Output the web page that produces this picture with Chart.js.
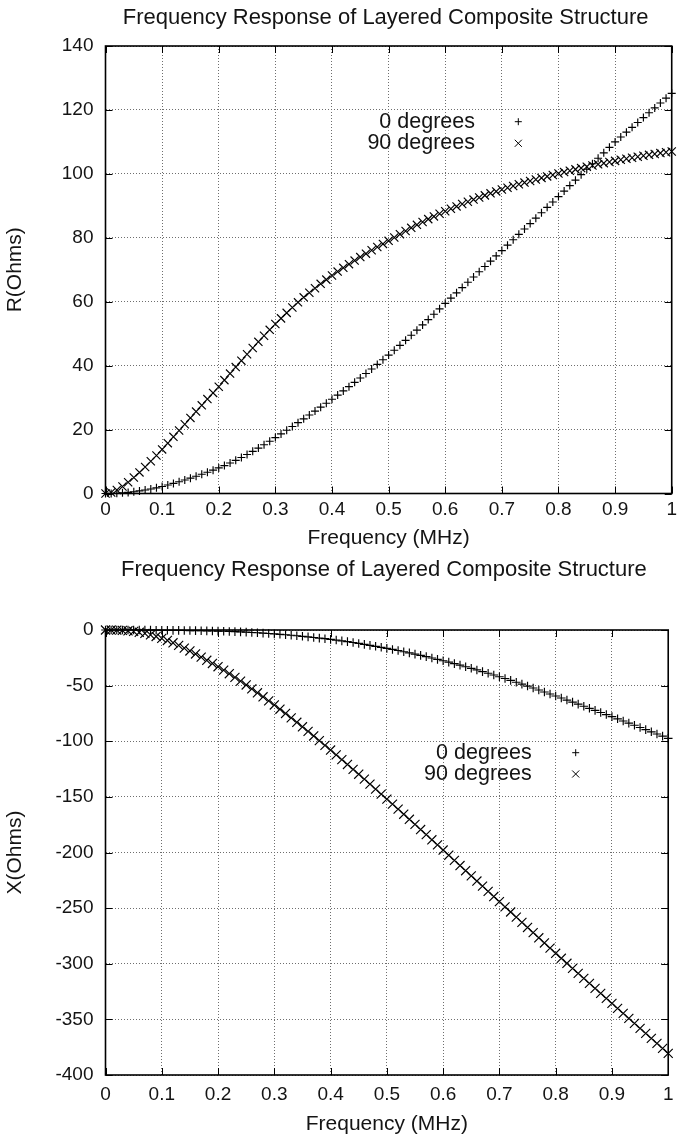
<!DOCTYPE html>
<html><head><meta charset="utf-8">
<script src="https://cdn.jsdelivr.net/npm/chart.js@4.4.1/dist/chart.umd.min.js"></script>
<style>
html,body{margin:0;padding:0;background:#fff;overflow:hidden;width:682px;height:1146px}
canvas{position:absolute;left:0}
#c1{top:0}
#c2{top:555px}
</style></head>
<body>
<canvas id="c1" width="682" height="555"></canvas>
<canvas id="c2" width="682" height="591"></canvas>
<script>
// ---------- data ----------
const chartTitle = 'Frequency Response of Layered Composite Structure';
const seriesNames = ['0 degrees', '90 degrees'];
const xAxisTitle = 'Frequency (MHz)';
const rAxisTitle = 'R(Ohms)';
const xOhmAxisTitle = 'X(Ohms)';

const freqTicks = [0, 0.1, 0.2, 0.3, 0.4, 0.5, 0.6, 0.7, 0.8, 0.9, 1];
const freqTickLabels = ['0', '0.1', '0.2', '0.3', '0.4', '0.5', '0.6', '0.7', '0.8', '0.9', '1'];
const rTicks = [0, 20, 40, 60, 80, 100, 120, 140];
const xOhmTicks = [-400, -350, -300, -250, -200, -150, -100, -50, 0];

const freq = [
  0, 0.01, 0.02, 0.03, 0.04, 0.05, 0.06, 0.07, 0.08, 0.09, 0.10,
  0.11, 0.12, 0.13, 0.14, 0.15, 0.16, 0.17, 0.18, 0.19, 0.20,
  0.21, 0.22, 0.23, 0.24, 0.25, 0.26, 0.27, 0.28, 0.29, 0.30,
  0.31, 0.32, 0.33, 0.34, 0.35, 0.36, 0.37, 0.38, 0.39, 0.40,
  0.41, 0.42, 0.43, 0.44, 0.45, 0.46, 0.47, 0.48, 0.49, 0.50,
  0.51, 0.52, 0.53, 0.54, 0.55, 0.56, 0.57, 0.58, 0.59, 0.60,
  0.61, 0.62, 0.63, 0.64, 0.65, 0.66, 0.67, 0.68, 0.69, 0.70,
  0.71, 0.72, 0.73, 0.74, 0.75, 0.76, 0.77, 0.78, 0.79, 0.80,
  0.81, 0.82, 0.83, 0.84, 0.85, 0.86, 0.87, 0.88, 0.89, 0.90,
  0.91, 0.92, 0.93, 0.94, 0.95, 0.96, 0.97, 0.98, 0.99, 1.00
];

const r0deg = [
  0, 0.02, 0.09, 0.2, 0.35, 0.55, 0.8, 1.08, 1.41, 1.78, 2.2,
  2.66, 3.15, 3.67, 4.22, 4.79, 5.39, 6.01, 6.65, 7.31, 8.0,
  8.74, 9.53, 10.37, 11.26, 12.2, 13.18, 14.2, 15.26, 16.36, 17.5,
  18.64, 19.8, 20.97, 22.16, 23.36, 24.56, 25.78, 27.01, 28.25, 29.5,
  30.78, 32.09, 33.42, 34.77, 36.14, 37.53, 38.94, 40.38, 41.83, 43.3,
  44.81, 46.35, 47.91, 49.5, 51.11, 52.74, 54.4, 56.08, 57.78, 59.5,
  61.14, 62.78, 64.43, 66.08, 67.73, 69.38, 71.03, 72.68, 74.34, 76.0,
  77.69, 79.38, 81.07, 82.76, 84.45, 86.14, 87.83, 89.52, 91.21, 92.9,
  94.61, 96.32, 98.03, 99.74, 101.45, 103.16, 104.87, 106.58, 108.29, 110.0,
  111.52, 113.04, 114.56, 116.08, 117.6, 119.12, 120.64, 122.16, 123.68, 125.2
];

const r90deg = [
  0, 0.3, 1.1, 2.2, 3.5, 5.0, 6.6, 8.3, 10.1, 11.9, 13.8,
  15.75, 17.72, 19.7, 21.68, 23.65, 25.62, 27.58, 29.53, 31.47, 33.4,
  35.47, 37.52, 39.55, 41.56, 43.55, 45.51, 47.44, 49.34, 51.2, 53.02,
  54.79, 56.51, 58.18, 59.8, 61.37, 62.82, 64.22, 65.59, 66.91, 68.2,
  69.42, 70.6, 71.75, 72.87, 73.96, 75.03, 76.08, 77.1, 78.09, 79.05,
  80.11, 81.14, 82.14, 83.11, 84.05, 84.96, 85.84, 86.69, 87.51, 88.30,
  89.07, 89.82, 90.55, 91.26, 91.95, 92.62, 93.27, 93.90, 94.51, 95.10,
  95.67, 96.22, 96.75, 97.26, 97.76, 98.25, 98.73, 99.20, 99.66, 100.11,
  100.55, 100.98, 101.40, 101.81, 102.21, 102.60, 102.98, 103.35, 103.71, 104.06,
  104.40, 104.73, 105.05, 105.36, 105.66, 105.95, 106.23, 106.50, 106.76, 107.01
];

const x0deg = [
  0, 0, 0, -0.01, -0.02, -0.04, -0.06, -0.09, -0.12, -0.16, -0.2,
  -0.25, -0.3, -0.36, -0.43, -0.51, -0.59, -0.68, -0.78, -0.88, -1.0,
  -1.13, -1.29, -1.48, -1.7, -1.95, -2.22, -2.51, -2.82, -3.15, -3.5,
  -3.88, -4.29, -4.73, -5.19, -5.68, -6.19, -6.72, -7.26, -7.82, -8.4,
  -9.05, -9.75, -10.49, -11.27, -12.08, -12.92, -13.78, -14.66, -15.57, -16.5,
  -17.47, -18.47, -19.51, -20.58, -21.68, -22.81, -23.97, -25.16, -26.37, -27.6,
  -28.9, -30.23, -31.6, -33.0, -34.43, -35.89, -37.38, -38.9, -40.44, -42.0,
  -43.62, -45.27, -46.95, -48.66, -50.39, -52.14, -53.91, -55.69, -57.49, -59.3,
  -61.13, -62.97, -64.82, -66.67, -68.53, -70.39, -72.26, -74.13, -76.01, -77.9,
  -79.83, -81.77, -83.71, -85.66, -87.61, -89.56, -91.51, -93.47, -95.43, -97.4
];

const x90deg = [
  0, -0.03, -0.13, -0.33, -0.68, -1.23, -2.03, -3.08, -4.38, -5.83, -7.5,
  -9.4, -11.5, -13.8, -16.25, -18.85, -21.55, -24.35, -27.2, -30.1, -33.0,
  -36.1, -39.3, -42.6, -45.95, -49.4, -52.9, -56.45, -60.05, -63.7, -67.4,
  -71.2, -75.05, -78.95, -82.95, -87.0, -91.1, -95.25, -99.45, -103.65, -107.9,
  -112.2, -116.5, -120.85, -125.25, -129.65, -134.05, -138.5, -143.0, -147.5, -152.0,
  -156.5, -161.05, -165.6, -170.15, -174.75, -179.35, -183.95, -188.55, -193.15, -197.8,
  -202.44, -207.08, -211.72, -216.36, -221.0, -225.64, -230.28, -234.92, -239.56, -244.2,
  -248.84, -253.48, -258.12, -262.76, -267.4, -272.04, -276.68, -281.32, -285.96, -290.6,
  -295.1, -299.6, -304.1, -308.6, -313.1, -317.6, -322.1, -326.6, -331.1, -335.6,
  -340.1, -344.6, -349.1, -353.6, -358.1, -362.6, -367.1, -371.6, -376.1, -380.6
];

// ---------- style ----------
const FONT = '"Liberation Sans", Arial, Helvetica, sans-serif';
const INK = '#141414';
const GRID = '#6e6e6e';

function toPoints(xs, ys) { return xs.map((x, i) => ({x: x, y: ys[i]})); }

function makePlugin(o) {
  return {
    id: 'gnuframe',
    afterDraw(chart) {
      const {ctx, chartArea: a, scales} = chart;
      ctx.save();
      // inward tick marks on all four sides
      ctx.strokeStyle = '#000';
      ctx.lineWidth = 1;
      const L = 7;
      scales.x.ticks.forEach(t => {
        const px = Math.round(scales.x.getPixelForValue(t.value)) + 0.5;
        ctx.beginPath();
        ctx.moveTo(px, a.bottom); ctx.lineTo(px, a.bottom - L);
        ctx.moveTo(px, a.top); ctx.lineTo(px, a.top + L);
        ctx.stroke();
      });
      scales.y.ticks.forEach(t => {
        const py = Math.round(scales.y.getPixelForValue(t.value)) + 0.5;
        ctx.beginPath();
        ctx.moveTo(a.left, py); ctx.lineTo(a.left + L, py);
        ctx.moveTo(a.right, py); ctx.lineTo(a.right - L, py);
        ctx.stroke();
      });
      // frame
      ctx.lineWidth = 1.6;
      ctx.strokeRect(a.left, a.top, a.right - a.left, a.bottom - a.top);
      // title
      ctx.fillStyle = INK;
      ctx.font = o.titleSize + 'px ' + FONT;
      ctx.textAlign = 'center';
      ctx.textBaseline = 'middle';
      ctx.fillText(chartTitle, (a.left + a.right) / 2 + o.titleDx, a.top + o.titleDy);
      // legend
      ctx.font = o.legendSize + 'px ' + FONT;
      ctx.textAlign = 'right';
      chart.data.datasets.forEach((ds, i) => {
        const y = a.top + o.legY + i * o.legGap;
        ctx.fillStyle = INK;
        ctx.fillText(ds.label, a.left + o.legTextX, y);
        ctx.strokeStyle = '#000';
        ctx.lineWidth = 1;
        Chart.helpers.drawPoint(ctx, {pointStyle: ds.pointStyle, radius: o.legRadius[i], rotation: 0, borderWidth: 1},
          a.left + o.legMarkX, y);
      });
      ctx.restore();
    }
  };
}

function makeChart(id, cfg) {
  const ds = (label, ys, style, radius) => ({
    label: label,
    data: toPoints(freq, ys),
    showLine: false,
    pointStyle: style,
    pointRadius: radius,
    pointHoverRadius: radius,
    pointBorderWidth: 1.15,
    pointBorderColor: '#000',
    pointBackgroundColor: '#000',
    borderColor: '#000',
    backgroundColor: '#000',
    clip: false
  });
  return new Chart(document.getElementById(id), {
    type: 'scatter',
    data: {
      datasets: [
        ds(seriesNames[0], cfg.s0, 'cross', cfg.r0),
        ds(seriesNames[1], cfg.s1, 'crossRot', cfg.r1)
      ]
    },
    options: {
      responsive: false,
      animation: false,
      devicePixelRatio: 1,
      events: [],
      layout: {padding: {top: cfg.padTop, right: 6, bottom: 0, left: 0}},
      plugins: {legend: {display: false}, title: {display: false}, tooltip: {enabled: false}},
      scales: {
        x: {
          type: 'linear', min: 0, max: 1,
          afterBuildTicks: s => { s.ticks = freqTicks.map(v => ({value: v})); },
          afterFit: s => { s.height = cfg.xAxisH; },
          grid: {color: GRID, lineWidth: 1, drawTicks: false},
          border: {display: false, dash: [1, 2]},
          ticks: {
            padding: cfg.xTickPad, color: INK, maxRotation: 0, autoSkip: false,
            font: {family: FONT, size: 19},
            callback: (v, i) => freqTickLabels[i]
          },
          title: {display: true, text: xAxisTitle, color: INK,
                  font: {family: FONT, size: 21}, padding: {top: 0, bottom: cfg.xTitlePad}}
        },
        y: {
          type: 'linear', min: cfg.yTicks[0], max: cfg.yTicks[cfg.yTicks.length - 1],
          afterBuildTicks: s => { s.ticks = cfg.yTicks.map(v => ({value: v})); },
          afterFit: s => { s.width = 105.5; },
          grid: {color: GRID, lineWidth: 1, drawTicks: false},
          border: {display: false, dash: [1, 2]},
          ticks: {
            padding: 12, color: INK, autoSkip: false,
            font: {family: FONT, size: 19},
            callback: v => String(v)
          },
          title: {display: true, text: cfg.yTitle, color: INK,
                  font: {family: FONT, size: 21}, padding: {top: 2.5, bottom: 0}}
        }
      }
    },
    plugins: [makePlugin(cfg.deco)]
  });
}

makeChart('c1', {
  s0: r0deg, s1: r90deg, r0: 4, r1: 5.8,
  padTop: 46, xAxisH: 61.5, xTickPad: 5, xTitlePad: 4.4,
  yTicks: rTicks, yTitle: rAxisTitle,
  deco: {titleSize: 22, titleDx: -3, titleDy: -28, legendSize: 21.5,
         legTextX: 369.5, legMarkX: 412.8, legY: 75.7, legGap: 21.6, legRadius: [3.5, 5]}
});

makeChart('c2', {
  s0: x0deg, s1: x90deg, r0: 4.3, r1: 6.4,
  padTop: 75, xAxisH: 71, xTickPad: 8.5, xTitlePad: 9.4,
  yTicks: xOhmTicks, yTitle: xOhmAxisTitle,
  deco: {titleSize: 22, titleDx: -3, titleDy: -60.5, legendSize: 21.5,
         legTextX: 426.2, legMarkX: 470.2, legY: 122.7, legGap: 21.3, legRadius: [3.5, 5]}
});
</script>
</body></html>
